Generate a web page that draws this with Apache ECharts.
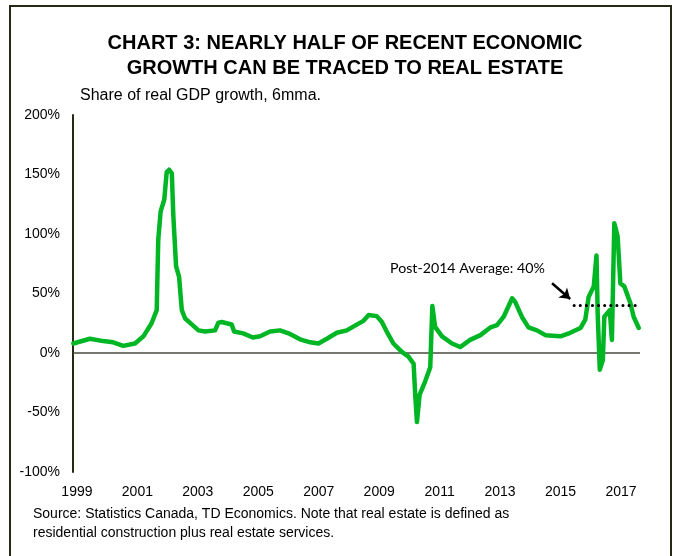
<!DOCTYPE html>
<html>
<head>
<meta charset="utf-8">
<script src="https://cdn.jsdelivr.net/npm/echarts@6/dist/echarts.min.js"></script>
<style>
  html, body { margin: 0; padding: 0; background: #fff; }
  #chart { width: 675px; height: 556px; }
</style>
</head>
<body>
<div id="chart"></div>
<script>
// share of real GDP growth from real estate, 6mma
const dates = [
  1998.88, 1999.43, 1999.87, 2000.2, 2000.53, 2000.92, 2001.2, 2001.47, 2001.64, 2001.69,
  2001.77, 2001.89, 2001.97, 2002.05, 2002.14, 2002.19, 2002.28, 2002.38, 2002.47, 2002.58,
  2002.8, 2003.02, 2003.24, 2003.57, 2003.68, 2003.79, 2004.12, 2004.2, 2004.5, 2004.82,
  2005.06, 2005.39, 2005.72, 2006.05, 2006.38, 2006.72, 2006.99, 2007.27, 2007.6, 2007.93,
  2008.2, 2008.48, 2008.65, 2008.92, 2009.09, 2009.25, 2009.47, 2009.75, 2009.97, 2010.14,
  2010.19, 2010.25, 2010.34, 2010.52, 2010.69, 2010.76, 2010.85, 2011.08, 2011.41, 2011.68,
  2012.01, 2012.35, 2012.68, 2012.9, 2013.12, 2013.4, 2013.5, 2013.72, 2013.94, 2014.22,
  2014.5, 2015.0, 2015.32, 2015.66, 2015.82, 2015.93, 2016.1, 2016.19, 2016.23, 2016.3,
  2016.4, 2016.45, 2016.63, 2016.7, 2016.78, 2016.89, 2016.98, 2017.11, 2017.31, 2017.42,
  2017.59
];
const share = [
  8, 12, 10, 9, 6, 8, 14, 25, 36, 95,
  119, 129, 152, 154, 151, 115, 73, 64, 36, 29,
  24, 19, 18, 19, 25.5, 26, 24, 18, 16.5, 13,
  14, 18, 19, 16, 11.5, 9, 8, 12, 17, 19,
  23, 27, 32, 31, 26, 18, 8, 1, -3, -9,
  -34, -58, -35, -24, -12, 39.5, 22, 14, 8, 5,
  11, 15, 21.5, 23.5, 30.5, 46, 43, 30.5, 21.5, 19,
  15, 14, 17, 21, 28, 47, 56, 82, 33, -14,
  -6, 30.5, 36, 11, 109, 98, 58.5, 56, 42, 30.5,
  21
];
const yearLabels = [1999, 2001, 2003, 2005, 2007, 2009, 2011, 2013, 2015, 2017];
const avgValue = 40;
const avgSpan = [2015.45, 2017.5];
const arrowFrom = [2014.72, 58.6];
const arrowTo = [2015.32, 45.4];

const chart = echarts.init(document.getElementById('chart'), null, { renderer: 'canvas' });

const option = {
  animation: false,
  backgroundColor: '#fff',
  textStyle: { fontFamily: 'Liberation Sans, Arial, sans-serif' },
  title: [
    {
      text: 'CHART 3: NEARLY HALF OF RECENT ECONOMIC\nGROWTH CAN BE TRACED TO REAL ESTATE',
      left: 340, top: 26, textAlign: 'center',
      textStyle: { fontSize: 20, fontWeight: 'bold', color: '#000', lineHeight: 25,
        fontFamily: 'Liberation Sans, Arial, sans-serif' }
    },
    {
      text: 'Share of real GDP growth, 6mma.',
      left: 75, top: 83,
      textStyle: { fontSize: 16, fontWeight: 'normal', color: '#000',
        fontFamily: 'Liberation Sans, Arial, sans-serif' }
    }
  ],
  grid: { left: 73, right: 35, top: 115, bottom: 84, containLabel: false },
  xAxis: {
    type: 'value',
    min: 1998.87, max: 2017.63,
    splitLine: { show: false },
    axisLine: { show: false },
    axisTick: { show: false },
    axisLabel: {
      customValues: yearLabels,
      margin: 13, fontSize: 14, color: '#000',
      formatter: v => String(v)
    }
  },
  yAxis: {
    type: 'value',
    min: -100, max: 200, interval: 50,
    splitLine: { show: false },
    axisTick: { show: false },
    axisLine: { show: true, lineStyle: { color: '#262a14', width: 2 } },
    axisLabel: { margin: 13, fontSize: 14, color: '#000', formatter: '{value}%' }
  },
  graphic: [
    {
      type: 'rect', silent: true,
      shape: { x: 10, y: 6, width: 661, height: 600 },
      style: { fill: 'none', stroke: '#262a14', lineWidth: 2 }
    },
    {
      type: 'text', left: 33, top: 505, silent: true,
      style: {
        text: 'Source: Statistics Canada, TD Economics. Note that real estate is defined as\nresidential construction plus real estate services.',
        fontSize: 14, lineHeight: 19, fill: '#000',
        fontFamily: 'Liberation Sans, Arial, sans-serif'
      }
    },
    {
      type: 'text', left: 390, top: 261, silent: true,
      style: { text: 'Post-2014 Average: 40%', fontSize: 14.2, fill: '#000',
        fontFamily: 'Lato, Open Sans, sans-serif' }
    }
  ],
  series: [
    {
      type: 'line',
      data: dates.map((d, i) => [d, share[i]]),
      showSymbol: false,
      smooth: false,
      lineStyle: { color: '#00b624', width: 4.5, join: 'round', cap: 'round' },
      z: 3,
      markLine: {
        silent: true,
        symbol: 'none',
        label: { show: false },
        lineStyle: { color: '#4a4a40', width: 1.5, type: 'solid' },
        data: [{ yAxis: 0 }],
        z: 2
      }
    },
    {
      type: 'line',
      data: avgSpan.map(d => [d, avgValue]),
      showSymbol: false,
      lineStyle: { color: '#000', width: 3, type: [0.1, 6], cap: 'round' },
      z: 4,
      markLine: {
        silent: true,
        symbol: ['none', 'arrow'],
        symbolSize: 10,
        label: { show: false },
        lineStyle: { color: '#000', width: 2.5, type: 'solid' },
        data: [[{ coord: arrowFrom }, { coord: arrowTo }]]
      }
    }
  ]
};

chart.setOption(option);
</script>
</body>
</html>
